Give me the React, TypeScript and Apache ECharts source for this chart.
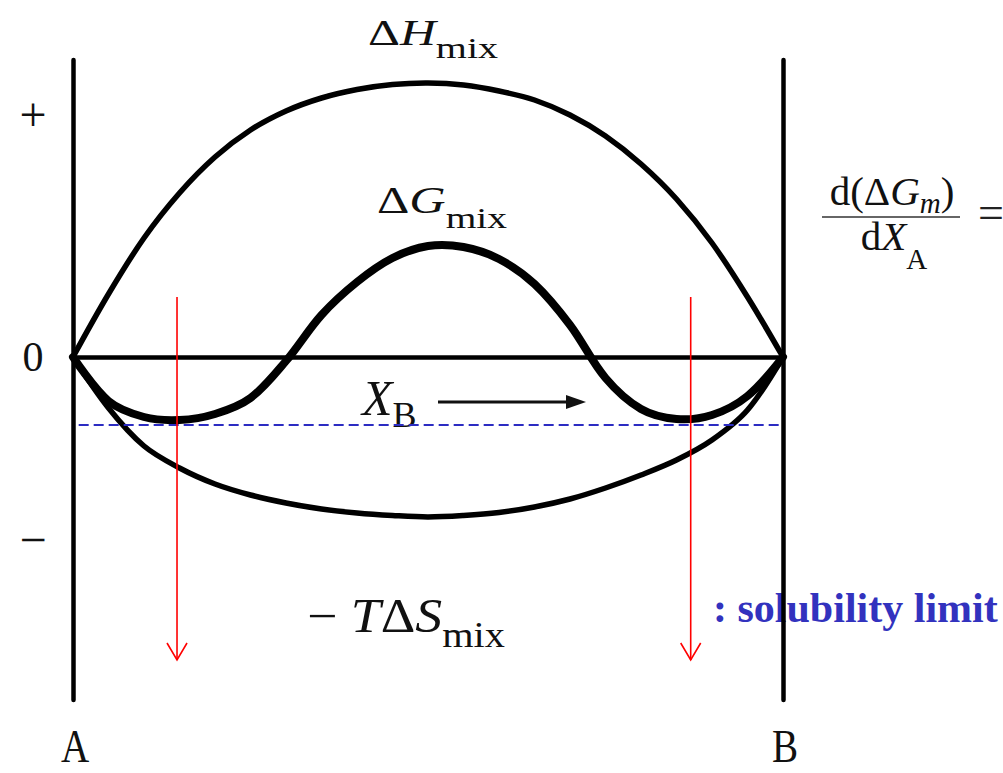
import React, { useEffect, useRef } from "react";
import * as echarts from "echarts";

// Mole fraction of B across the A–B binary (0 = pure A, 1 = pure B)
const composition = [
  0, 0.05, 0.1, 0.15, 0.2, 0.25, 0.3, 0.35, 0.4, 0.45, 0.5,
  0.55, 0.6, 0.65, 0.7, 0.75, 0.8, 0.85, 0.9, 0.95, 1,
];
// Enthalpy of mixing (arbitrary energy units)
const enthalpyMix = [
  0, 0.63, 1.19, 1.64, 2.0, 2.27, 2.46, 2.59, 2.675, 2.725, 2.74,
  2.72, 2.66, 2.57, 2.42, 2.21, 1.93, 1.58, 1.14, 0.6, 0,
];
// Free energy of mixing
const gibbsMix = [
  0, -0.44, -0.6, -0.63, -0.57, -0.41, -0.04, 0.42, 0.75, 0.99, 1.11,
  1.1, 0.98, 0.73, 0.32, -0.21, -0.52, -0.62, -0.58, -0.39, 0,
];
// Entropy term, -T dS of mixing
const entropyTerm = [
  0, -0.51, -0.89, -1.11, -1.27, -1.38, -1.46, -1.52, -1.56, -1.585, -1.6,
  -1.585, -1.555, -1.5, -1.42, -1.31, -1.18, -1.03, -0.83, -0.53, 0,
];
// Common tangent level and the two solubility limits it touches
const tangentLevel = -0.68;
const tangentSpan = [0.008, 1];
const solubilityLimits = [0.1465, 0.87];
const limitArrowTop = 0.6;
const limitArrowBottom = -3.03;
// Sign marks on the energy scale and end members on the composition scale
const levelTicks = ["+", "0", "\u2212"];
const levelTickValues = [2.39, 0, -1.86];
const endMembers = ["A", "B"];
const endMemberValues = [0, 1];

const SERIF = "'Liberation Serif', 'Times New Roman', serif";

function pairs(xs: number[], ys: number[]) {
  return xs.map((x, i) => [x, ys[i]]);
}

export default function App() {
  const ref = useRef<HTMLDivElement>(null);

  useEffect(() => {
    if (!ref.current) return;
    const chart = echarts.init(ref.current, null, { renderer: "svg" });

    // Each energy curve is one smooth polyline through its data points,
    // placed with the cartesian scales of the grid.
    const curve = (name: string, ys: number[], width: number) => ({
      name,
      type: "custom",
      coordinateSystem: "cartesian2d",
      data: pairs(composition, ys),
      z: 4,
      renderItem: (params: any, api: any) => {
        if (params.dataIndex !== 0) return;
        const points = composition.map((x, i) => api.coord([x, ys[i]]));
        return {
          type: "polyline",
          shape: { points, smooth: 0.34 },
          style: {
            stroke: "#000",
            lineWidth: width,
            fill: "none",
            lineJoin: "round",
            lineCap: "round",
          },
        };
      },
    });

    const hiddenY = (position: string) => ({
      type: "value",
      min: -3.43,
      max: 2.97,
      position,
      axisLine: { show: true, lineStyle: { color: "#000", width: 4.5 } },
      axisTick: { show: false },
      axisLabel: { show: false },
      splitLine: { show: false },
      z: 10,
    });

    chart.setOption({
      animation: false,
      backgroundColor: "#fff",
      grid: { left: 73, right: 220, top: 60, bottom: 73 },
      xAxis: {
        type: "value",
        min: 0,
        max: 1,
        axisLine: { show: true, onZero: true, lineStyle: { color: "#000", width: 4.5 } },
        axisTick: { show: false },
        axisLabel: { show: false },
        splitLine: { show: false },
        z: 3,
      },
      yAxis: [hiddenY("left"), hiddenY("right")],
      series: [
        curve("enthalpy", enthalpyMix, 5.5),
        curve("gibbs", gibbsMix, 8),
        curve("entropy", entropyTerm, 5.5),
        {
          name: "tangent",
          type: "line",
          data: tangentSpan.map((x) => [x, tangentLevel]),
          showSymbol: false,
          lineStyle: { color: "#2c2cc2", width: 2, type: [10, 5] },
          z: 5,
        },
        {
          name: "limits",
          type: "custom",
          coordinateSystem: "cartesian2d",
          data: solubilityLimits.map((x) => [x, limitArrowTop, limitArrowBottom]),
          z: 6,
          renderItem: (_params: any, api: any) => {
            const x = api.value(0);
            const top = api.coord([x, api.value(1)]);
            const bot = api.coord([x, api.value(2)]);
            const stroke = { stroke: "#ff0000", lineWidth: 1.6, fill: "none" };
            return {
              type: "group",
              children: [
                {
                  type: "line",
                  shape: { x1: top[0], y1: top[1], x2: bot[0], y2: bot[1] },
                  style: stroke,
                },
                {
                  type: "polyline",
                  shape: {
                    points: [
                      [bot[0] - 10, bot[1] - 17],
                      [bot[0], bot[1]],
                      [bot[0] + 10, bot[1] - 17],
                    ],
                  },
                  style: stroke,
                },
              ],
            };
          },
        },
      ],
    });

    const toPx = (x: number, y: number) =>
      chart.convertToPixel({ gridIndex: 0 }, [x, y]) as number[];

    const text = (
      x: number,
      y: number,
      content: string,
      extra: any = {},
      el: any = {}
    ) => ({
      type: "text",
      x,
      y,
      z: 1,
      ...el,
      style: {
        text: content,
        x: 0,
        y: 0,
        fill: "#111",
        font: `36px ${SERIF}`,
        textAlign: "center",
        textVerticalAlign: "middle",
        align: "center",
        verticalAlign: "middle",
        ...extra,
      },
    });

    const levelLabels = levelTicks.map((t, i) => {
      const p = toPx(0, levelTickValues[i]);
      const dy = t === "0" ? 0 : -4;
      const size = t === "0" ? 42 : 48;
      return text(33, p[1] + dy, t, { font: `${size}px ${SERIF}` });
    });
    const endLabels = endMembers.map((t, i) => {
      const p = toPx(endMemberValues[i], 0);
      return text(p[0] + 2, 746, t, { font: `46px ${SERIF}` }, { scaleX: 0.85 });
    });

    const richMix = (main: number, sub: number, pad: number) => ({
      r: { fontSize: main, fontFamily: SERIF, fill: "#111" },
      i: { fontSize: main, fontFamily: SERIF, fontStyle: "italic", fill: "#111" },
      s: { fontSize: sub, fontFamily: SERIF, fill: "#111", padding: [pad, 0, 0, 0] },
      si: { fontSize: sub, fontFamily: SERIF, fontStyle: "italic", fill: "#111", padding: [pad, 0, 0, 0] },
    });

    chart.setOption({
      graphic: [
        ...levelLabels,
        ...endLabels,
        text(433, 33, "{r|\u0394}{i|H}{s|mix}", { rich: richMix(36, 29, 31) }, { scaleX: 1.38 }),
        text(442, 201, "{r|\u0394}{i|G}{s|mix}", { rich: richMix(37, 29, 33) }, { scaleX: 1.36 }),
        text(362, 398, "{i|X}{s|B}", { rich: richMix(50, 36, 34), textAlign: "left", align: "left" }),
        {
          type: "line",
          shape: { x1: 438, y1: 402, x2: 572, y2: 402 },
          style: { stroke: "#111", lineWidth: 3 },
        },
        {
          type: "polygon",
          shape: { points: [[566, 395], [586, 402], [566, 409]] },
          style: { fill: "#111" },
        },
        text(406, 616, "{r|\u2212 }{i|T}{r|\u0394}{i|S}{s|mix}", { rich: richMix(48, 36, 38) }, { scaleX: 1.12 }),
        // derivative of the free energy curve
        text(892, 191, "{r|d(\u0394}{i|G}{si|m}{r|)}", { rich: richMix(41, 29, 23), fill: "#222" }),
        {
          type: "line",
          shape: { x1: 822, y1: 217, x2: 960, y2: 217 },
          style: { stroke: "#333", lineWidth: 1.5 },
        },
        text(894, 236, "{r|d}{i|X}{s|A}", { rich: richMix(41, 29, 45), fill: "#222" }),
        text(978, 212, "=", { font: `46px ${SERIF}`, textAlign: "left", align: "left", fill: "#222" }),
        text(713, 608, ": solubility limit", {
          font: `bold 42px ${SERIF}`,
          fill: "#3232be",
          textAlign: "left",
          align: "left",
        }),
      ],
    });

    return () => chart.dispose();
  }, []);

  return (
    <div
      ref={ref}
      style={{ position: "fixed", left: 0, top: 0, width: 1003, height: 773 }}
    />
  );
}
